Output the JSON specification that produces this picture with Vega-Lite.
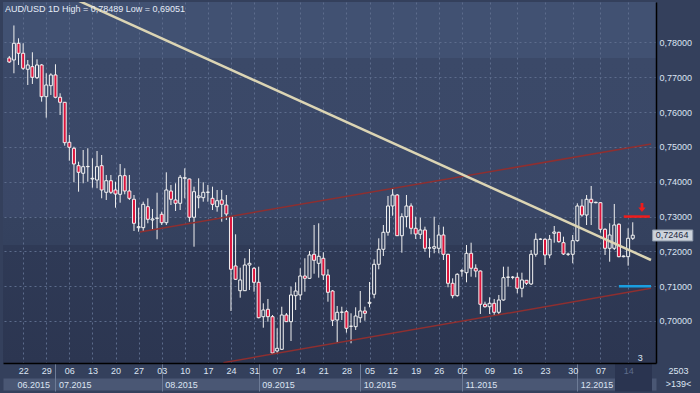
{
"$schema":"https://vega.github.io/schema/vega-lite/v6.json",
"width":653,"height":361,"autosize":"none",
"padding":{"left":3,"top":2,"right":44,"bottom":30},
"background":"#34405c",
"title":{"text":"AUD/USD 1D High = 0,78489 Low = 0,69051","anchor":"start","frame":"group","orient":"top","offset":-12,"dx":2,"fontSize":9,"fontWeight":"normal","color":"#e4ecf8","font":"Liberation Sans"},
"config":{"font":"Liberation Sans","view":{"stroke":null,"fill":{"gradient":"linear","x1":0,"y1":0,"x2":0,"y2":1,"stops":[{"offset":0,"color":"#415172"},{"offset":0.155,"color":"#415172"},{"offset":0.156,"color":"#3b4968"},{"offset":0.595,"color":"#3a4767"},{"offset":0.596,"color":"#35425f"},{"offset":0.672,"color":"#34415e"},{"offset":0.673,"color":"#2f3a56"},{"offset":1,"color":"#2c3651"}]}}},
"resolve":{"axis":{"x":"independent"}},
"datasets":{
"candles":[
{"i":0,"open":0.77555,"high":0.77612,"low":0.77411,"close":0.77440},
{"i":1,"open":0.77497,"high":0.78489,"low":0.77115,"close":0.77977},
{"i":2,"open":0.77977,"high":0.78121,"low":0.77354,"close":0.77690},
{"i":3,"open":0.77690,"high":0.77977,"low":0.77210,"close":0.77259},
{"i":4,"open":0.77230,"high":0.77497,"low":0.76779,"close":0.77354},
{"i":5,"open":0.77305,"high":0.77719,"low":0.76808,"close":0.77000},
{"i":6,"open":0.76989,"high":0.77517,"low":0.76952,"close":0.77354},
{"i":7,"open":0.77354,"high":0.77380,"low":0.76300,"close":0.76443},
{"i":8,"open":0.76443,"high":0.77115,"low":0.75840,"close":0.76779},
{"i":9,"open":0.76759,"high":0.77115,"low":0.76492,"close":0.77067},
{"i":10,"open":0.77067,"high":0.77374,"low":0.76397,"close":0.76426},
{"i":11,"open":0.76426,"high":0.76541,"low":0.75917,"close":0.76282},
{"i":12,"open":0.76282,"high":0.76290,"low":0.75036,"close":0.75122},
{"i":13,"open":0.75133,"high":0.75343,"low":0.74605,"close":0.74990},
{"i":14,"open":0.74961,"high":0.75007,"low":0.73984,"close":0.74510},
{"i":15,"open":0.74461,"high":0.74576,"low":0.73714,"close":0.74271},
{"i":16,"open":0.74243,"high":0.74912,"low":0.73955,"close":0.74432},
{"i":17,"open":0.74432,"high":0.74961,"low":0.74001,"close":0.74440},
{"i":18,"open":0.74079,"high":0.74674,"low":0.73829,"close":0.74099},
{"i":19,"open":0.74050,"high":0.74883,"low":0.73812,"close":0.74432},
{"i":20,"open":0.74461,"high":0.74768,"low":0.73524,"close":0.73763},
{"i":21,"open":0.73697,"high":0.74194,"low":0.73476,"close":0.74030},
{"i":22,"open":0.74030,"high":0.74194,"low":0.73648,"close":0.73697},
{"i":23,"open":0.73763,"high":0.74001,"low":0.73254,"close":0.73648},
{"i":24,"open":0.73639,"high":0.74510,"low":0.73398,"close":0.74174},
{"i":25,"open":0.74174,"high":0.74386,"low":0.73639,"close":0.73734},
{"i":26,"open":0.73734,"high":0.74194,"low":0.73476,"close":0.73524},
{"i":27,"open":0.73496,"high":0.73619,"low":0.72585,"close":0.72806},
{"i":28,"open":0.72680,"high":0.73254,"low":0.72565,"close":0.72709},
{"i":29,"open":0.72680,"high":0.73427,"low":0.72565,"close":0.73352},
{"i":30,"open":0.73283,"high":0.73524,"low":0.72806,"close":0.72921},
{"i":31,"open":0.72901,"high":0.73217,"low":0.72614,"close":0.72931},
{"i":32,"open":0.72950,"high":0.73685,"low":0.72347,"close":0.72955},
{"i":33,"open":0.73065,"high":0.73140,"low":0.72757,"close":0.72824},
{"i":34,"open":0.72824,"high":0.74271,"low":0.72757,"close":0.73763},
{"i":35,"open":0.73734,"high":0.73907,"low":0.73332,"close":0.73496},
{"i":36,"open":0.73476,"high":0.73955,"low":0.73160,"close":0.73381},
{"i":37,"open":0.73381,"high":0.74194,"low":0.73188,"close":0.74128},
{"i":38,"open":0.74099,"high":0.74386,"low":0.73524,"close":0.74116},
{"i":39,"open":0.74079,"high":0.74090,"low":0.72852,"close":0.72979},
{"i":40,"open":0.72979,"high":0.73858,"low":0.72134,"close":0.73714},
{"i":41,"open":0.73542,"high":0.74099,"low":0.73237,"close":0.73591},
{"i":42,"open":0.73542,"high":0.73984,"low":0.73427,"close":0.73697},
{"i":43,"open":0.73697,"high":0.73907,"low":0.73427,"close":0.73700},
{"i":44,"open":0.73524,"high":0.73858,"low":0.73188,"close":0.73352},
{"i":45,"open":0.73283,"high":0.73763,"low":0.73140,"close":0.73455},
{"i":46,"open":0.73476,"high":0.73763,"low":0.72852,"close":0.73352},
{"i":47,"open":0.73332,"high":0.73619,"low":0.72901,"close":0.73073},
{"i":48,"open":0.72996,"high":0.73000,"low":0.70287,"close":0.71485},
{"i":49,"open":0.71580,"high":0.72490,"low":0.71178,"close":0.71198},
{"i":50,"open":0.70870,"high":0.71531,"low":0.70669,"close":0.71178},
{"i":51,"open":0.70870,"high":0.71801,"low":0.70861,"close":0.71608},
{"i":52,"open":0.71608,"high":0.72068,"low":0.70890,"close":0.71657},
{"i":53,"open":0.71514,"high":0.71551,"low":0.70841,"close":0.71111},
{"i":54,"open":0.71111,"high":0.71560,"low":0.70077,"close":0.70094},
{"i":55,"open":0.70123,"high":0.70508,"low":0.69807,"close":0.70316},
{"i":56,"open":0.70336,"high":0.70632,"low":0.69980,"close":0.70123},
{"i":57,"open":0.70123,"high":0.70172,"low":0.69051,"close":0.69080},
{"i":58,"open":0.69138,"high":0.69790,"low":0.69072,"close":0.69215},
{"i":59,"open":0.69187,"high":0.70410,"low":0.69167,"close":0.70172},
{"i":60,"open":0.70172,"high":0.70229,"low":0.69970,"close":0.69980},
{"i":61,"open":0.69980,"high":0.70985,"low":0.69425,"close":0.70747},
{"i":62,"open":0.70727,"high":0.71111,"low":0.70316,"close":0.70861},
{"i":63,"open":0.70747,"high":0.71514,"low":0.70603,"close":0.71292},
{"i":64,"open":0.71292,"high":0.71801,"low":0.70841,"close":0.71226},
{"i":65,"open":0.71226,"high":0.72011,"low":0.71206,"close":0.71896},
{"i":66,"open":0.71916,"high":0.72757,"low":0.71358,"close":0.71743},
{"i":67,"open":0.71657,"high":0.72806,"low":0.71244,"close":0.71858},
{"i":68,"open":0.71801,"high":0.71973,"low":0.71178,"close":0.71321},
{"i":69,"open":0.71321,"high":0.71485,"low":0.70554,"close":0.70824},
{"i":70,"open":0.70861,"high":0.70890,"low":0.69856,"close":0.70020},
{"i":71,"open":0.70028,"high":0.70431,"low":0.69376,"close":0.70250},
{"i":72,"open":0.70250,"high":0.70410,"low":0.70028,"close":0.70255},
{"i":73,"open":0.70267,"high":0.70316,"low":0.69664,"close":0.69790},
{"i":74,"open":0.69847,"high":0.70221,"low":0.69359,"close":0.69850},
{"i":75,"open":0.69836,"high":0.70393,"low":0.69741,"close":0.70143},
{"i":76,"open":0.70094,"high":0.70861,"low":0.69951,"close":0.70287},
{"i":77,"open":0.70287,"high":0.70410,"low":0.70008,"close":0.70221},
{"i":78,"open":0.70508,"high":0.71120,"low":0.70393,"close":0.70537},
{"i":79,"open":0.70767,"high":0.71772,"low":0.70652,"close":0.71628},
{"i":80,"open":0.71628,"high":0.72375,"low":0.71485,"close":0.72059},
{"i":81,"open":0.72059,"high":0.72757,"low":0.71867,"close":0.72548},
{"i":82,"open":0.72548,"high":0.73591,"low":0.72450,"close":0.73303},
{"i":83,"open":0.73303,"high":0.73800,"low":0.73025,"close":0.73619},
{"i":84,"open":0.73619,"high":0.73648,"low":0.72441,"close":0.72450},
{"i":85,"open":0.72450,"high":0.73094,"low":0.71962,"close":0.72996},
{"i":86,"open":0.72996,"high":0.73619,"low":0.72691,"close":0.73303},
{"i":87,"open":0.73303,"high":0.73381,"low":0.72490,"close":0.72662},
{"i":88,"open":0.72662,"high":0.72996,"low":0.72355,"close":0.72499},
{"i":89,"open":0.72490,"high":0.72967,"low":0.72355,"close":0.72614},
{"i":90,"open":0.72614,"high":0.72709,"low":0.71990,"close":0.72088},
{"i":91,"open":0.72097,"high":0.72375,"low":0.71818,"close":0.72100},
{"i":92,"open":0.72088,"high":0.72996,"low":0.71945,"close":0.72134},
{"i":93,"open":0.72088,"high":0.72757,"low":0.71945,"close":0.72470},
{"i":94,"open":0.72470,"high":0.72709,"low":0.71752,"close":0.71916},
{"i":95,"open":0.71916,"high":0.71930,"low":0.70968,"close":0.71083},
{"i":96,"open":0.71083,"high":0.71226,"low":0.70652,"close":0.70727},
{"i":97,"open":0.70727,"high":0.71370,"low":0.70698,"close":0.71341},
{"i":98,"open":0.71436,"high":0.71494,"low":0.71272,"close":0.71440},
{"i":99,"open":0.71387,"high":0.72183,"low":0.71111,"close":0.71945},
{"i":100,"open":0.71945,"high":0.72249,"low":0.71272,"close":0.71514},
{"i":101,"open":0.71514,"high":0.71628,"low":0.71255,"close":0.71436},
{"i":102,"open":0.71436,"high":0.71450,"low":0.70201,"close":0.70480},
{"i":103,"open":0.70480,"high":0.70554,"low":0.70382,"close":0.70410},
{"i":104,"open":0.70410,"high":0.70681,"low":0.70201,"close":0.70508},
{"i":105,"open":0.70508,"high":0.70632,"low":0.70152,"close":0.70250},
{"i":106,"open":0.70250,"high":0.70747,"low":0.70192,"close":0.70603},
{"i":107,"open":0.70603,"high":0.71560,"low":0.70584,"close":0.71244},
{"i":108,"open":0.71255,"high":0.71560,"low":0.70985,"close":0.71260},
{"i":109,"open":0.71255,"high":0.71292,"low":0.71198,"close":0.71258},
{"i":110,"open":0.71255,"high":0.71387,"low":0.70795,"close":0.70939},
{"i":111,"open":0.70939,"high":0.71387,"low":0.70681,"close":0.71178},
{"i":112,"open":0.71169,"high":0.71178,"low":0.71034,"close":0.71083},
{"i":113,"open":0.71063,"high":0.72039,"low":0.71034,"close":0.71916},
{"i":114,"open":0.71916,"high":0.72519,"low":0.71847,"close":0.72347},
{"i":115,"open":0.72347,"high":0.72375,"low":0.72327,"close":0.72350},
{"i":116,"open":0.72347,"high":0.72375,"low":0.71608,"close":0.71896},
{"i":117,"open":0.71896,"high":0.72470,"low":0.71801,"close":0.72347},
{"i":118,"open":0.72519,"high":0.72729,"low":0.72249,"close":0.72556},
{"i":119,"open":0.72548,"high":0.72565,"low":0.72249,"close":0.72278},
{"i":120,"open":0.72249,"high":0.72421,"low":0.71896,"close":0.71925},
{"i":121,"open":0.71916,"high":0.71962,"low":0.71867,"close":0.71920},
{"i":122,"open":0.71916,"high":0.72470,"low":0.71657,"close":0.72307},
{"i":123,"open":0.72307,"high":0.73381,"low":0.72278,"close":0.73303},
{"i":124,"open":0.73303,"high":0.73496,"low":0.72996,"close":0.73044},
{"i":125,"open":0.73044,"high":0.73619,"low":0.72757,"close":0.73496},
{"i":126,"open":0.73496,"high":0.73878,"low":0.72757,"close":0.73398},
{"i":127,"open":0.73398,"high":0.73427,"low":0.73381,"close":0.73410},
{"i":128,"open":0.73398,"high":0.73410,"low":0.72537,"close":0.72634},
{"i":129,"open":0.72634,"high":0.72662,"low":0.71896,"close":0.72088},
{"i":130,"open":0.72088,"high":0.72806,"low":0.71703,"close":0.72470},
{"i":131,"open":0.72088,"high":0.73361,"low":0.72039,"close":0.72757},
{"i":132,"open":0.72778,"high":0.72806,"low":0.71829,"close":0.71847},
{"i":133,"open":0.71847,"high":0.71880,"low":0.71829,"close":0.71867},
{"i":134,"open":0.71847,"high":0.72662,"low":0.71588,"close":0.72375},
{"i":135,"open":0.72375,"high":0.72835,"low":0.72327,"close":0.72464}
],
"trend":[{"name":"trend","i":15,"p":0.7920},{"name":"trend","i":138.95,"p":0.71752}],
"channel":[{"name":"upper","i":28.29,"p":0.72556},{"name":"upper","i":138.95,"p":0.75084},{"name":"lower","i":46.35,"p":0.68802},{"name":"lower","i":138.95,"p":0.70939}],
"levels":[{"name":"resistance","i":133.05,"i2":138.7,"p":0.7300},{"name":"support","i":132,"i2":138.95,"p":0.7100}],
"arrow":[{"i":137.0,"p":0.7326}],
"counter":[{"i":136.6,"p":0.68937,"t":"3"}],
"pricebox":[{"i":139.3,"i2":148.0,"p":0.72614,"p2":0.72298}],
"pricetext":[{"i":140.0,"p":0.72464,"t":"0,72464"}]
},
"layer":[
{"data":{"name":"candles"},"mark":{"type":"rule","color":"#f0f0f0","strokeWidth":1,"clip":true},
"encoding":{
"x":{"field":"i","type":"quantitative","scale":{"domain":[-0.28,138.95],"nice":false,"zero":false},
 "axis":{"orient":"bottom","values":[3,8,13,18,23,28,33,38,43,48,53,58,63,68,73,78,83,88,93,98,104,110,116,122,128,134],"grid":true,"gridColor":"#5d6c8c","gridDash":[2,3],"labels":false,"ticks":false,"domain":false,"title":null}},
"y":{"field":"low","type":"quantitative","scale":{"domain":[0.68793,0.79163],"nice":false,"zero":false},
 "axis":{"orient":"right","values":[0.70,0.71,0.72,0.73,0.74,0.75,0.76,0.77,0.78],"labelExpr":"replace(format(datum.value,'.5f'),'.',',')","labelColor":"#dce4f2","labelFontSize":9,"labelPadding":3,"labelOverlap":false,"labelFlush":false,"ticks":false,"domain":true,"domainColor":"#000000","domainWidth":1.5,"grid":true,"gridColor":"#5d6c8c","gridDash":[2,3],"title":["2503",">139<"],"titleAngle":0,"titleX":22,"titleY":364,"titleAlign":"center","titleBaseline":"top","titleFontSize":9,"titleFontWeight":"normal","titleColor":"#dce4f2","titleLineHeight":13}},
"y2":{"field":"high"}}},
{"data":{"name":"candles"},"mark":{"type":"bar","size":3,"stroke":"#f2f2f2","strokeWidth":1,"clip":true},
"encoding":{
"x":{"field":"i","type":"quantitative",
 "axis":{"orient":"bottom","values":[1],"labels":false,"ticks":false,"domain":true,"domainColor":"#4a5774","domainWidth":12,"offset":21,"grid":false,"zindex":0,"title":null}},
"y":{"field":"open","type":"quantitative"},
"y2":{"field":"close"},
"fill":{"condition":[{"test":"datum.close < datum.open","value":"#dc143c"},{"test":"datum.close > 0.7755","value":"#415172"},{"test":"datum.close > 0.7299","value":"#3b4968"},{"test":"datum.close > 0.7218","value":"#35425f"}],"value":"#2f3a56"}}},
{"data":{"name":"channel"},"mark":{"type":"line","color":"#8e2f30","strokeWidth":1.5,"clip":true},
"encoding":{
"x":{"field":"i","type":"quantitative",
 "axis":{"orient":"bottom","values":[1,10,33,54,76,98,123,135],"labelExpr":"datum.value > 134 ? '' : ['06.2015','07.2015','08.2015','09.2015','10.2015','11.2015','12.2015'][indexof([1,10,33,54,76,98,123], datum.value)]","labelAlign":"left","labelOffset":3,"labelBaseline":"middle","labelPadding":-7,"labelColor":"#dce4f2","labelFontSize":9,"labelOverlap":false,"labelFlush":false,"labelBound":false,"domain":false,"grid":false,"ticks":true,"tickSize":28,"tickColor":{"condition":[{"test":"datum.value < 5","value":"transparent"},{"test":"datum.value > 134","value":"#2a3450"}],"value":"#6d7b96"},"tickWidth":{"condition":{"test":"datum.value > 134","value":37},"value":1},"zindex":1,"title":null}},
"y":{"field":"p","type":"quantitative"},
"detail":{"field":"name"}}},
{"data":{"name":"trend"},"mark":{"type":"line","color":"#dcd5b4","strokeWidth":2.5,"clip":true},
"encoding":{
"x":{"field":"i","type":"quantitative","axis":null},
"y":{"field":"p","type":"quantitative"}}},
{"data":{"name":"levels"},"mark":{"type":"rule","strokeWidth":2.5,"clip":true},
"encoding":{
"x":{"field":"i","type":"quantitative",
 "axis":{"orient":"bottom","values":[3,8,13,18,23,28,33,38,43,48,53,58,63,68,73,78,83,88,93,98,104,110,116,122,128,134],"labelExpr":"['22','29','06','13','20','27','03','10','17','24','31','07','14','21','28','05','12','19','26','02','09','16','23','30','07','14'][indexof([3,8,13,18,23,28,33,38,43,48,53,58,63,68,73,78,83,88,93,98,104,110,116,122,128,134], datum.value)]","labelColor":{"condition":{"test":"datum.value == 134","value":"#5e6d8c"},"value":"#dce4f2"},"labelFontSize":9,"labelPadding":3,"labelOverlap":false,"labelFlush":false,"ticks":false,"domain":true,"domainColor":"#000000","domainWidth":1.5,"grid":false,"zindex":2,"title":null}},
"x2":{"field":"i2"},
"y":{"field":"p","type":"quantitative"},
"color":{"field":"name","type":"nominal","scale":{"domain":["resistance","support"],"range":["#ee1c1c","#1a9ee0"]},"legend":null}}},
{"data":{"name":"arrow"},"mark":{"type":"point","shape":"M-0.3,-1L0.3,-1L0.3,0L0.8,0L0,1L-0.8,0L-0.3,0Z","filled":true,"color":"#ee1c1c","size":85,"opacity":1},
"encoding":{"x":{"field":"i","type":"quantitative","axis":null},"y":{"field":"p","type":"quantitative"}}},
{"data":{"name":"counter"},"mark":{"type":"text","fontSize":9,"color":"#dce4f2","align":"center","baseline":"middle"},
"encoding":{"x":{"field":"i","type":"quantitative","axis":null},"y":{"field":"p","type":"quantitative"},"text":{"field":"t"}}},
{"data":{"name":"pricebox"},"mark":{"type":"rect","color":"#cdd3dc","stroke":"#8e99ab","strokeWidth":1},
"encoding":{"x":{"field":"i","type":"quantitative","axis":null},"x2":{"field":"i2"},"y":{"field":"p","type":"quantitative"},"y2":{"field":"p2"}}},
{"data":{"name":"pricetext"},"mark":{"type":"text","fontSize":9,"color":"#1c2840","align":"left","baseline":"middle"},
"encoding":{"x":{"field":"i","type":"quantitative","axis":null},"y":{"field":"p","type":"quantitative"},"text":{"field":"t"}}}
]
}
